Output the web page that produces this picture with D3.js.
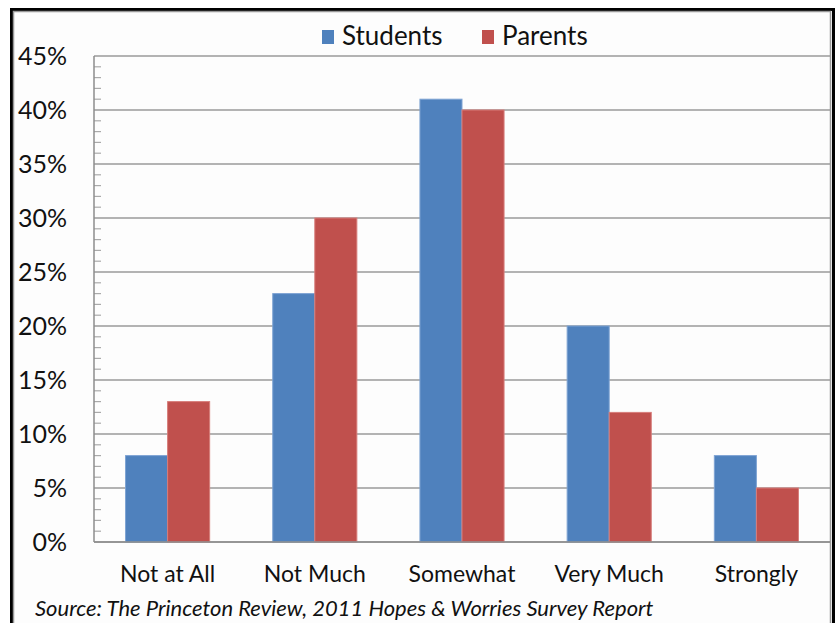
<html>
<head>
<meta charset="utf-8">
<title>Students vs Parents</title>
<script src="https://cdn.jsdelivr.net/npm/d3@7"></script>
<style>
body { margin: 0; background: #fff; }
text { font-family: Lato, "Open Sans", sans-serif; fill: #111; }
</style>
</head>
<body>
<div id="chart"></div>
<script>
// data
var categories = ["Not at All", "Not Much", "Somewhat", "Very Much", "Strongly"];
var seriesNames = ["Students", "Parents"];
var students = [8, 23, 41, 20, 8];
var parents = [13, 30, 40, 12, 5];
var yTicks = [0, 5, 10, 15, 20, 25, 30, 35, 40, 45];
var colors = ["#4f81bd", "#c0504d"];
var sourceNote = "Source: The Princeton Review, 2011 Hopes & Worries Survey Report";

var W = 835, H = 623;
var plotLeft = 94, plotRight = 830, plotTop = 56, plotBottom = 542;

var svg = d3.select("#chart").append("svg")
    .attr("width", W)
    .attr("height", H);

// frame
svg.append("rect").attr("x", 0).attr("y", 0).attr("width", W).attr("height", H).attr("fill", "#fff");
svg.append("rect")
    .attr("x", 11.5).attr("y", 9.5)
    .attr("width", 822).attr("height", 640)
    .attr("fill", "#fdfdfd")
    .attr("stroke", "#000").attr("stroke-width", 3);
svg.append("rect")
    .attr("x", 13.5).attr("y", 11.5)
    .attr("width", 817).attr("height", 640)
    .attr("fill", "none")
    .attr("stroke", "#999").attr("stroke-width", 1.5);

var y = d3.scaleLinear().domain([0, 45]).range([plotBottom, plotTop]);
var x0 = d3.scaleBand().domain(categories).range([plotLeft, plotRight]).paddingInner(1.5 / 3.5).paddingOuter(0.75 / 3.5);
var x1 = d3.scaleBand().domain(seriesNames).range([0, x0.bandwidth()]);

// minor ticks
var minor = d3.range(0, 45, 1).filter(function(v) { return v % 5 != 0; });
svg.append("g").selectAll("line").data(minor).enter().append("line")
    .attr("x1", plotLeft).attr("x2", plotLeft + 7)
    .attr("y1", function(d) { return y(d); })
    .attr("y2", function(d) { return y(d); })
    .attr("stroke", "#aaa").attr("stroke-width", 1.2);

// gridlines
svg.append("g").selectAll("line").data(yTicks).enter().append("line")
    .attr("x1", plotLeft).attr("x2", plotRight)
    .attr("y1", function(d) { return y(d); })
    .attr("y2", function(d) { return y(d); })
    .attr("stroke", "#9a9a9a").attr("stroke-width", 1.5);

// y axis line
svg.append("line")
    .attr("x1", plotLeft).attr("x2", plotLeft)
    .attr("y1", plotTop).attr("y2", plotBottom)
    .attr("stroke", "#8c8c8c").attr("stroke-width", 1.5);

// y labels
svg.append("g").selectAll("text").data(yTicks).enter().append("text")
    .attr("x", 67)
    .attr("y", function(d) { return y(d); })
    .attr("dy", "0.35em")
    .attr("text-anchor", "end")
    .style("font-size", "25px")
    .text(function(d) { return d + "%"; });

// bars
var rows = categories.map(function(c, i) {
    return [{ c: c, s: seriesNames[0], v: students[i] }, { c: c, s: seriesNames[1], v: parents[i] }];
});
var groups = svg.append("g").selectAll("g").data(rows).enter().append("g")
    .attr("transform", function(d) { return "translate(" + x0(d[0].c) + ",0)"; });
groups.selectAll("rect").data(function(d) { return d; }).enter().append("rect")
    .attr("x", function(d) { return x1(d.s); })
    .attr("y", function(d) { return y(d.v); })
    .attr("width", x1.bandwidth())
    .attr("height", function(d) { return plotBottom - y(d.v); })
    .attr("fill", function(d, i) { return colors[i]; })
    .attr("stroke", function(d, i) { return i == 0 ? "#7ea3d3" : "#d77d7a"; })
    .attr("stroke-width", 1);

// x axis line on top of bars
svg.append("line")
    .attr("x1", plotLeft).attr("x2", plotRight)
    .attr("y1", plotBottom).attr("y2", plotBottom)
    .attr("stroke", "#8c8c8c").attr("stroke-width", 1.5);

// x labels
svg.append("g").selectAll("text").data(categories).enter().append("text")
    .attr("x", function(d) { return x0(d) + x0.bandwidth() / 2; })
    .attr("y", 582)
    .attr("text-anchor", "middle")
    .style("font-size", "23px")
    .text(function(d) { return d; });

// legend
var legendX = [322, 482];
var lg = svg.append("g").selectAll("g").data(seriesNames).enter().append("g")
    .attr("transform", function(d, i) { return "translate(" + legendX[i] + ",0)"; });
lg.append("rect")
    .attr("x", 0).attr("y", 30).attr("width", 12).attr("height", 14)
    .attr("fill", function(d, i) { return colors[i]; });
lg.append("text")
    .attr("x", 20).attr("y", 45)
    .style("font-size", "26px")
    .text(function(d) { return d; });

// source
svg.append("text")
    .attr("x", 35).attr("y", 616)
    .style("font-size", "22px")
    .style("font-style", "italic")
    .text(sourceNote);
</script>
</body>
</html>
